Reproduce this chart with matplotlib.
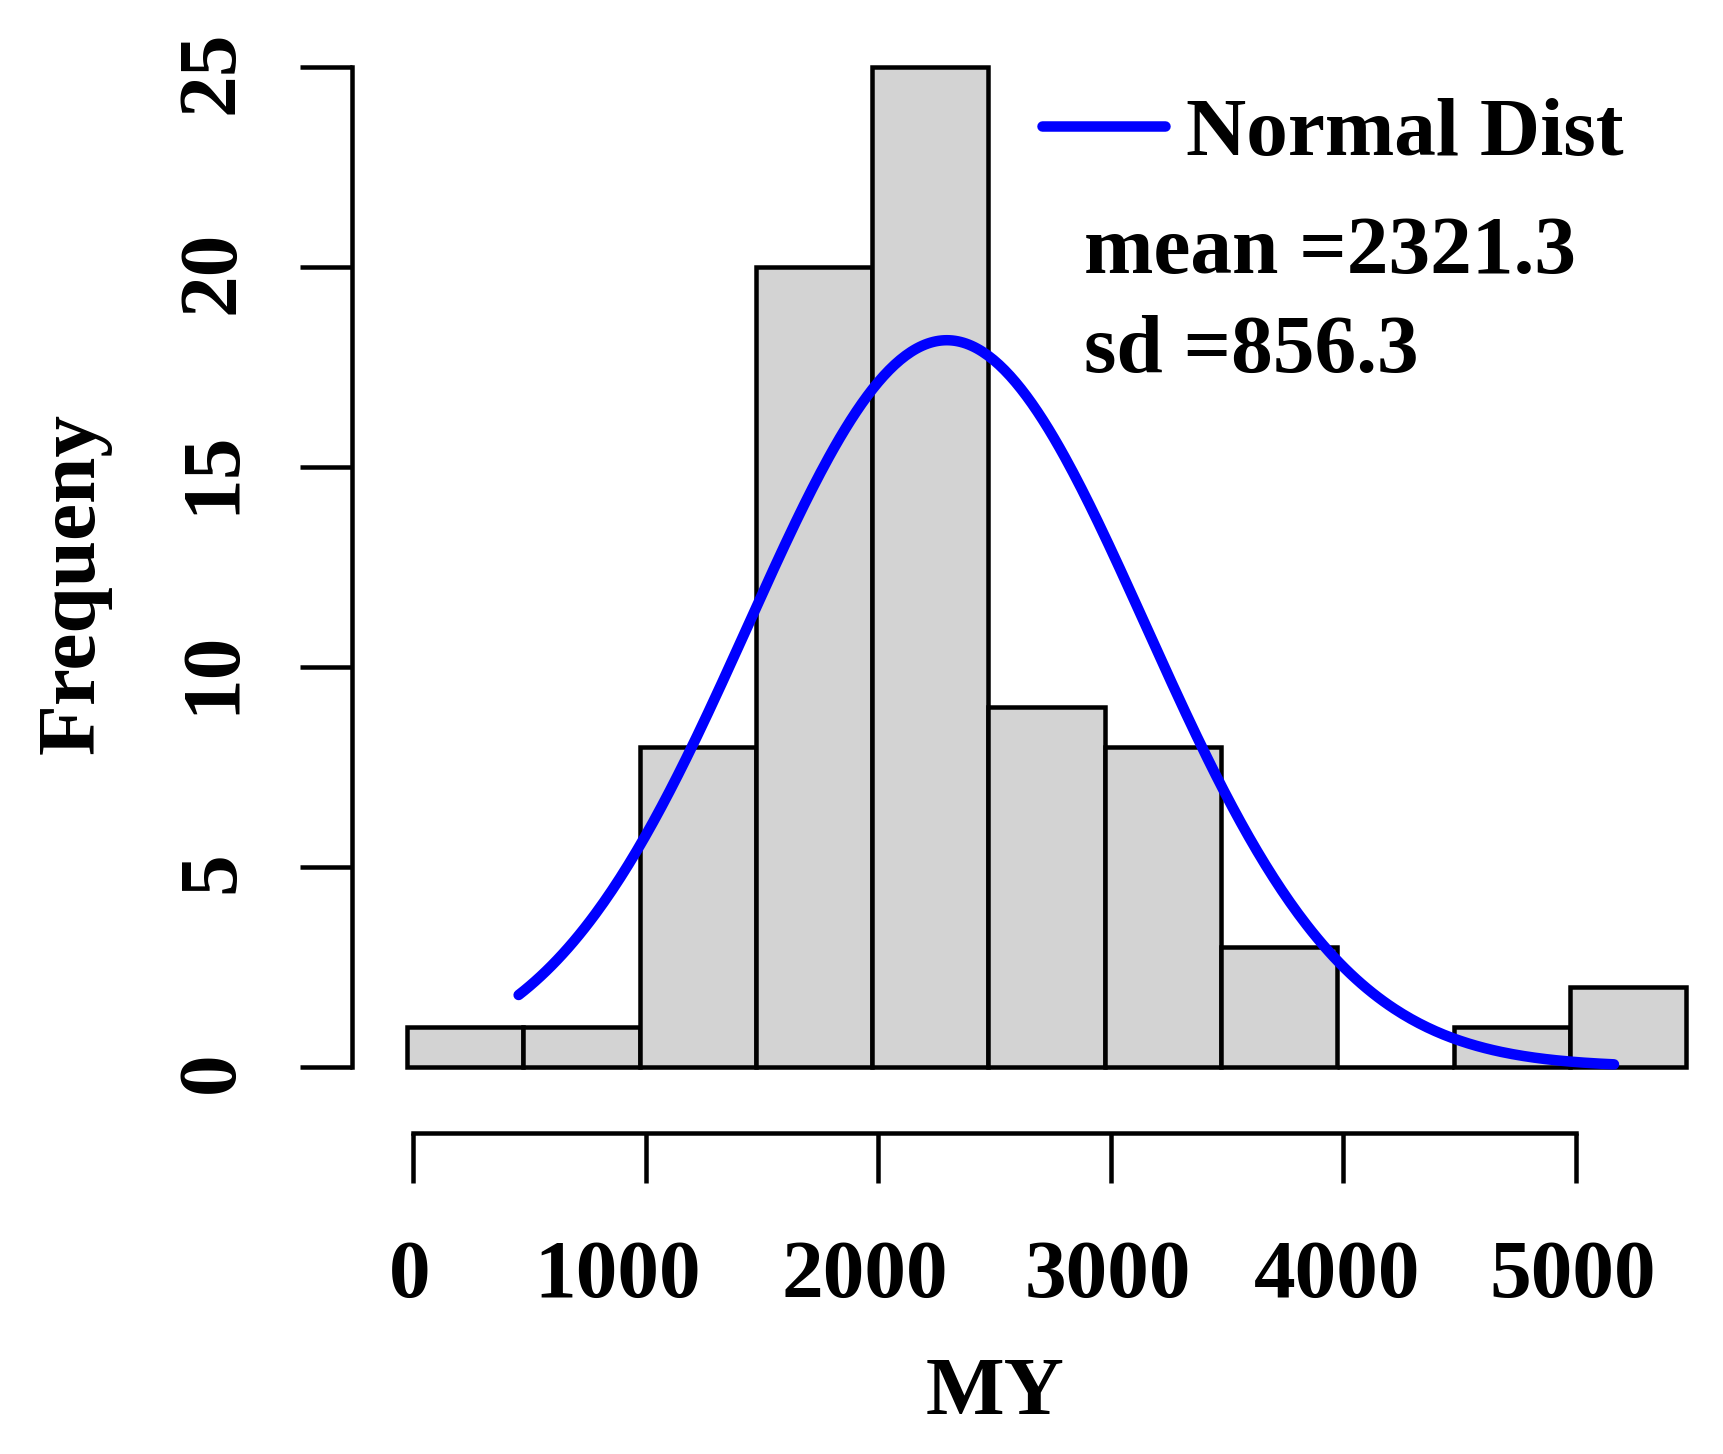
import numpy as np
import matplotlib
matplotlib.use("Agg")
import matplotlib.pyplot as plt
from matplotlib.transforms import ScaledTranslation

# ---- data ----
bin_edges = [0, 500, 1000, 1500, 2000, 2500, 3000, 3500, 4000, 4500, 5000, 5500]
counts = [1, 1, 8, 20, 25, 9, 8, 3, 0, 1, 2]
mean_val = 2321.3
sd_val = 856.3
curve_start = 480
curve_end = 5190
x_ticks = [0, 1000, 2000, 3000, 4000, 5000]
y_ticks = [0, 5, 10, 15, 20, 25]
x_label = "MY"
y_label = "Frequeny"
legend_label = "Normal Dist"

# ---- style ----
plt.rcParams['font.family'] = ['Liberation Serif', 'DejaVu Serif']
plt.rcParams['font.weight'] = 'bold'

W, H = 1724, 1454
DPI = 100
PT = 72.0 / DPI  # points per pixel
FS = 60
LW = 4.5 * PT
xlab_dx_px = [-3, -28, -13, -3, -6, -3]   # small horizontal nudges of x tick labels

fig = plt.figure(figsize=(W / DPI, H / DPI), dpi=DPI)
rect = [352 / W, (H - 1067) / H, (W - 352) / W, 1000 / H]
ax = fig.add_axes(rect)
XLIM = (-236.5, 5663)
ax.set_xlim(*XLIM)
ax.set_ylim(0, 25)

widths = np.diff(bin_edges)
ax.bar(bin_edges[:-1], counts, width=widths, align='edge',
       facecolor='#D3D3D3', edgecolor='black', linewidth=LW,
       clip_on=False, zorder=2)

n_total = sum(counts)
bw = widths[0]
xs = np.linspace(curve_start, curve_end, 400)
ys = n_total * bw * np.exp(-0.5 * ((xs - mean_val) / sd_val) ** 2) / (sd_val * np.sqrt(2 * np.pi))
ax.plot(xs, ys, color='#0000FF', linewidth=10.5 * PT, solid_capstyle='round',
        zorder=3, clip_on=False, label=legend_label)

for s in ['top', 'right', 'bottom']:
    ax.spines[s].set_visible(False)
ax.spines['left'].set_linewidth(LW)
ax.spines['left'].set_bounds(y_ticks[0], y_ticks[-1])
ax.set_xticks([])
ax.set_yticks(y_ticks)
ax.set_yticklabels([str(v) for v in y_ticks], fontsize=FS, fontweight='bold',
                   rotation=90, rotation_mode='anchor', ha='center', va='baseline')
ax.tick_params(axis='y', direction='out', length=52 * PT, width=LW, pad=67 * PT)
for lab in ax.get_yticklabels():
    lab.set_transform(lab.get_transform() + ScaledTranslation(0, -5 / DPI, fig.dpi_scale_trans))

# separate R-style x axis (slightly offset, as in the reference)
axx = fig.add_axes([(352 + 6) / W, rect[1], rect[2], rect[3]])
axx.set_xlim(*XLIM)
axx.set_ylim(0, 25)
axx.patch.set_visible(False)
for s in ['top', 'right', 'left']:
    axx.spines[s].set_visible(False)
axx.spines['bottom'].set_linewidth(LW)
axx.spines['bottom'].set_position(('outward', 66 * PT))
axx.spines['bottom'].set_bounds(x_ticks[0], x_ticks[-1])
axx.set_yticks([])
axx.set_xticks(x_ticks)
axx.set_xticklabels([str(v) for v in x_ticks], fontsize=FS, fontweight='bold', va='baseline')
axx.tick_params(axis='x', direction='out', length=50 * PT, width=LW, pad=114 * PT)
for lab, dx in zip(axx.get_xticklabels(), xlab_dx_px):
    lab.set_transform(lab.get_transform() + ScaledTranslation(dx / DPI, 0, fig.dpi_scale_trans))

# axis titles
fig.text(995 / W, (H - 1414) / H, x_label, fontsize=FS, fontweight='bold',
         ha='center', va='baseline')
fig.text(94 / W, (H - 583) / H, y_label, fontsize=FS, fontweight='bold',
         rotation=90, rotation_mode='anchor', ha='center', va='baseline')

# legend
leg = ax.legend(loc='upper left', bbox_to_anchor=(1042 / W, 1 - 97 / H),
                bbox_transform=fig.transFigure, frameon=False,
                prop={'family': 'Liberation Serif', 'weight': 'bold', 'size': FS},
                handlelength=1.48, handletextpad=0.25, borderpad=0, borderaxespad=0)

fig.text(1084 / W, (H - 273) / H, "mean =" + f"{mean_val:.1f}", fontsize=FS,
         fontweight='bold', ha='left', va='baseline')
fig.text(1084 / W, (H - 372) / H, "sd =" + f"{sd_val:.1f}", fontsize=FS,
         fontweight='bold', ha='left', va='baseline')

fig.savefig("out.png", dpi=DPI, facecolor='white')
